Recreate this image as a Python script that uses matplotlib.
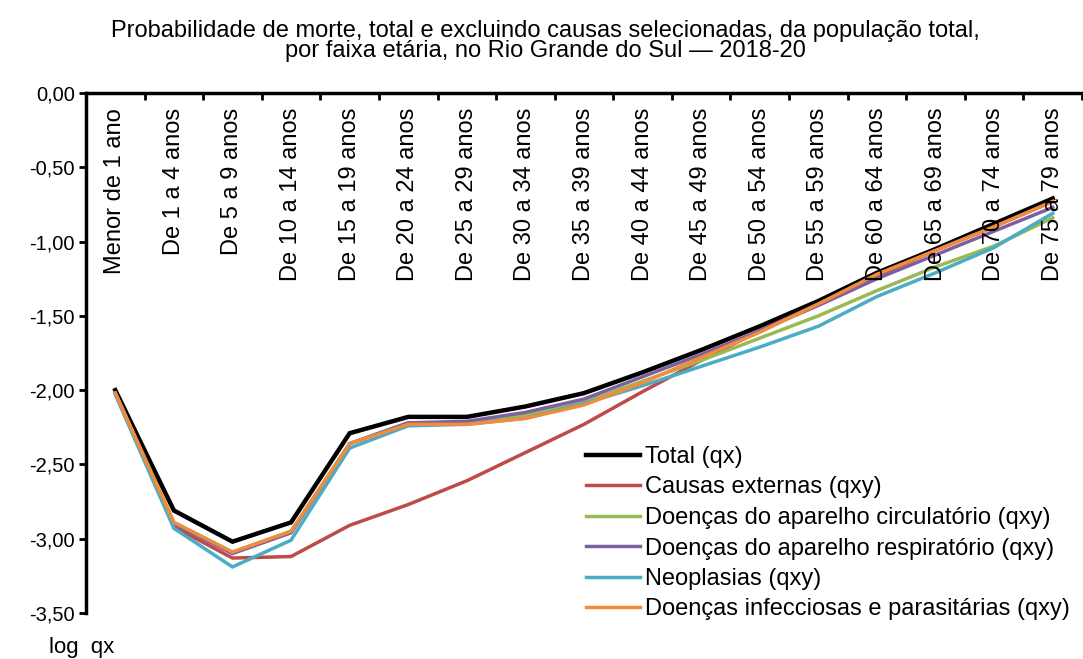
import numpy as np
import matplotlib.pyplot as plt
from matplotlib.ticker import FixedLocator, FuncFormatter

# -----------------------------
# Data (log qx)
# -----------------------------
faixas = [
    "Menor de 1 ano", "De 1 a 4 anos", "De 5 a 9 anos", "De 10 a 14 anos",
    "De 15 a 19 anos", "De 20 a 24 anos", "De 25 a 29 anos", "De 30 a 34 anos",
    "De 35 a 39 anos", "De 40 a 44 anos", "De 45 a 49 anos", "De 50 a 54 anos",
    "De 55 a 59 anos", "De 60 a 64 anos", "De 65 a 69 anos", "De 70 a 74 anos",
    "De 75 a 79 anos",
]

total = [-2.00, -2.81, -3.02, -2.89, -2.29, -2.18, -2.18, -2.11, -2.02,
         -1.88, -1.73, -1.57, -1.40, -1.21, -1.05, -0.88, -0.71]
externas = [-2.02, -2.92, -3.13, -3.12, -2.91, -2.77, -2.61, -2.42, -2.23,
            -2.01, -1.80, -1.60, -1.42, -1.23, -1.06, -0.90, -0.73]
circulatorio = [-2.02, -2.89, -3.09, -2.95, -2.36, -2.22, -2.22, -2.17, -2.08,
                -1.94, -1.80, -1.65, -1.50, -1.33, -1.17, -1.03, -0.84]
respiratorio = [-2.02, -2.90, -3.10, -2.96, -2.36, -2.22, -2.21, -2.15, -2.06,
                -1.91, -1.76, -1.60, -1.43, -1.25, -1.09, -0.93, -0.77]
neoplasias = [-2.03, -2.93, -3.19, -3.01, -2.39, -2.24, -2.23, -2.19, -2.09,
              -1.97, -1.84, -1.71, -1.57, -1.37, -1.21, -1.04, -0.81]
infecciosas = [-2.02, -2.89, -3.09, -2.95, -2.36, -2.23, -2.23, -2.19, -2.10,
               -1.95, -1.78, -1.61, -1.42, -1.22, -1.06, -0.90, -0.73]

series = [
    ("Total (qx)", total, "#000000", 3.2),
    ("Causas externas (qxy)", externas, "#BE4B48", 2.5),
    ("Doenças do aparelho circulatório (qxy)", circulatorio, "#98B954", 2.5),
    ("Doenças do aparelho respiratório (qxy)", respiratorio, "#7D60A0", 2.5),
    ("Neoplasias (qxy)", neoplasias, "#4BACC6", 2.5),
    ("Doenças infecciosas e parasitárias (qxy)", infecciosas, "#F08C3C", 2.5),
]

y_ticks = [0.0, -0.5, -1.0, -1.5, -2.0, -2.5, -3.0, -3.5]

plt.rcParams["font.family"] = ["Liberation Sans", "DejaVu Sans"]
FS = 17

fig = plt.figure(figsize=(10.83, 6.59), dpi=100)
ax = fig.add_axes([86 / 1083, 1 - 613 / 659, 996 / 1083, 520 / 659])

x = np.arange(len(faixas))
for label, vals, color, lw in series:
    ax.plot(x, vals, color=color, lw=lw, label=label, solid_joinstyle="miter")

ax.set_xlim(-0.5, len(faixas) - 0.5)
ax.set_ylim(-3.5, 0.0)

# y axis
ax.yaxis.set_major_locator(FixedLocator(y_ticks))
ax.yaxis.set_major_formatter(FuncFormatter(lambda v, p: f"{v:.2f}".replace(".", ",")))
ax.tick_params(axis="y", direction="out", length=5, width=2, labelsize=14.5, pad=3)

# category axis at the top (y = 0), tick marks between categories
ax.spines["right"].set_visible(False)
ax.spines["bottom"].set_visible(False)
ax.spines["top"].set_linewidth(2.5)
ax.spines["left"].set_linewidth(2.5)
ax.xaxis.tick_top()
ax.set_xticks(np.arange(len(faixas) + 1) - 0.5)
ax.set_xticklabels([])
ax.tick_params(axis="x", direction="in", length=5, width=2)

for xi, name in zip(x, faixas):
    ax.text(xi, -0.1, name, rotation=90, ha="center", va="top", fontsize=FS,
            clip_on=False)

fig.text(545 / 1083, 1 - 41 / 659,
         "Probabilidade de morte, total e excluindo causas selecionadas, da população total,\n"
         "por faixa etária, no Rio Grande do Sul — 2018-20",
         ha="center", va="center", fontsize=17, linespacing=0.85)

fig.text(82 / 1083, 1 - 647 / 659, "log  qx", ha="center", va="center", fontsize=16)

ax.legend(loc="upper left", bbox_to_anchor=(586 / 1083, 1 - 446 / 659),
          bbox_transform=fig.transFigure, frameon=False, fontsize=FS,
          handlelength=2.3, handletextpad=0.2, labelspacing=0.36,
          borderaxespad=0, borderpad=0)

fig.savefig("out.png", dpi=100)
